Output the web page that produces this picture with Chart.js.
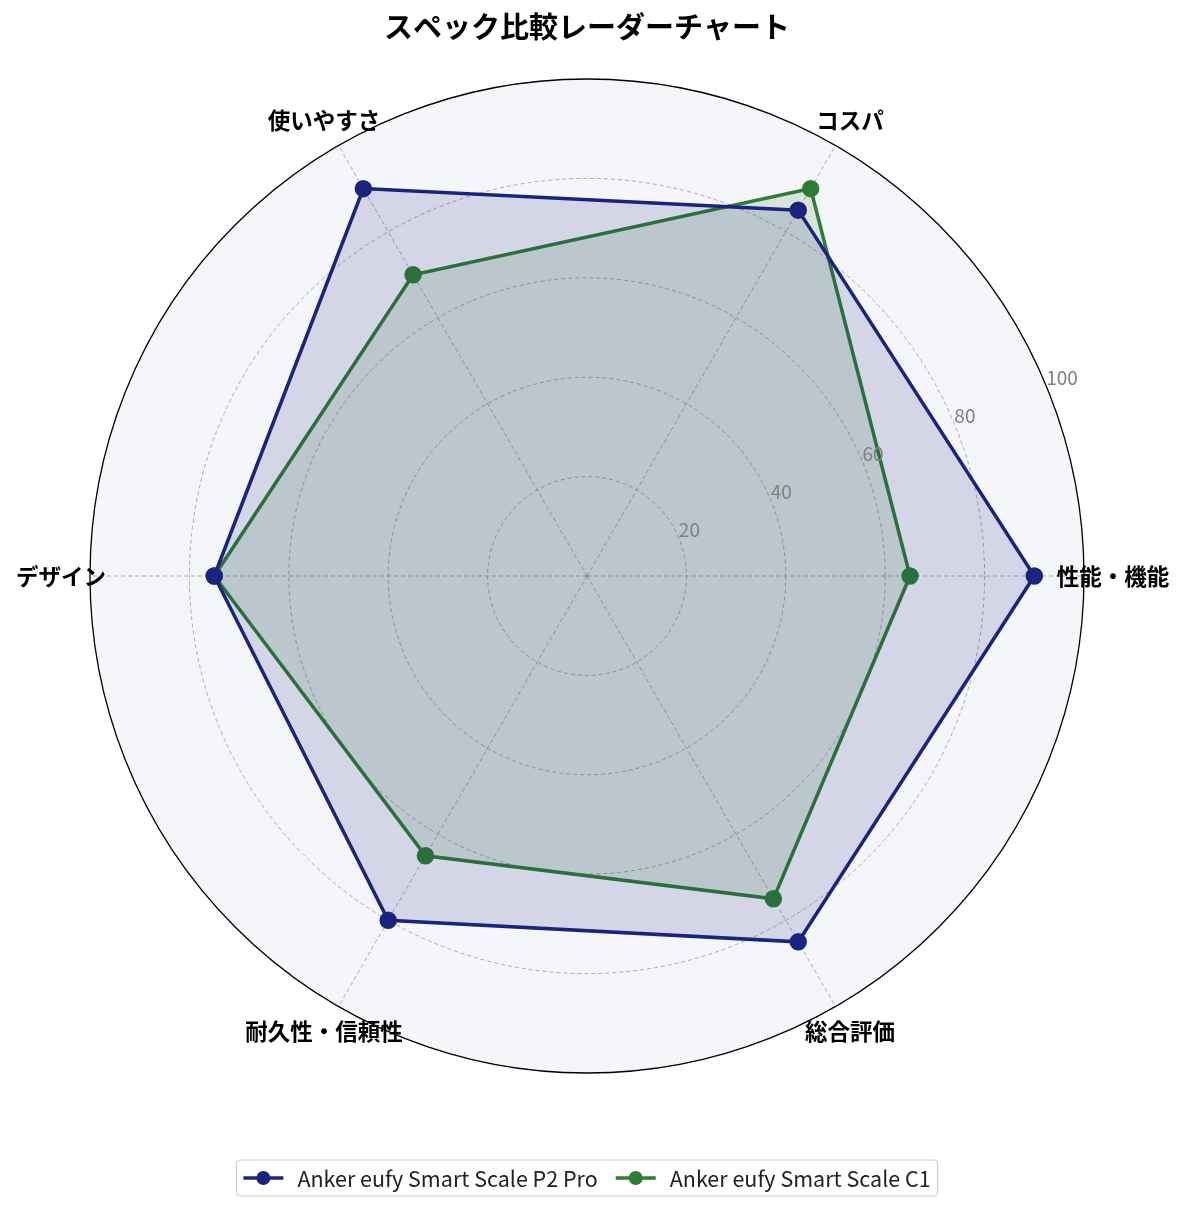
<!DOCTYPE html>
<html lang="ja">
<head>
<meta charset="utf-8">
<title>スペック比較レーダーチャート</title>
<script src="https://cdn.jsdelivr.net/npm/chart.js@4.4.1/dist/chart.umd.min.js"></script>
<style>
  html, body { margin: 0; padding: 0; background: #ffffff; }
  #wrap { position: relative; width: 1185px; height: 1211px; }
</style>
</head>
<body>
<div id="wrap"><canvas id="radar"></canvas></div>
<script>
// data, in the order the reference goes round (counter-clockwise from the right)
const categories = ["性能・機能", "コスパ", "使いやすさ", "デザイン", "耐久性・信頼性", "総合評価"];
const seriesNames = ["Anker eufy Smart Scale P2 Pro", "Anker eufy Smart Scale C1"];
const p2ProValues = [90, 85, 90, 75, 80, 85];
const c1Values = [65, 90, 70, 75, 65, 75];
const tickValues = [20, 40, 60, 80, 100];

const seriesColors = ["#1a237e", "#2e7d32"];
const seriesFills = ["rgba(26, 35, 126, 0.15)", "rgba(46, 125, 50, 0.15)"];
const FONT = '"Noto Sans CJK JP", "Noto Sans", sans-serif';

// Chart.js walks clockwise, so reorder to keep the same picture
const order = [0, 5, 4, 3, 2, 1];
const pick = arr => order.map(i => arr[i]);

Chart.defaults.font.family = FONT;

// radial tick labels sit at 22.5 deg, like matplotlib's rlabel
const tickLabels = {
  id: "tickLabels",
  afterDatasetsDraw(chart) {
    const scale = chart.scales.r;
    const ctx = chart.ctx;
    const a = 22.5 * Math.PI / 180;
    ctx.save();
    ctx.font = "19px " + FONT;
    ctx.fillStyle = "#808080";
    ctx.textAlign = "left";
    ctx.textBaseline = "bottom";
    tickValues.forEach(v => {
      const r = scale.getDistanceFromCenterForValue(v);
      ctx.fillText(String(v), scale.xCenter + r * Math.cos(a), scale.yCenter - r * Math.sin(a) + 1);
    });
    ctx.restore();
  }
};

// category labels, centred just outside the outer ring
const catLabels = {
  id: "catLabels",
  afterDatasetsDraw(chart) {
    const scale = chart.scales.r;
    const ctx = chart.ctx;
    const dist = scale.getDistanceFromCenterForValue(100) + 29;
    ctx.save();
    ctx.font = "bold 22.5px " + FONT;
    ctx.fillStyle = "#000000";
    ctx.textAlign = "center";
    ctx.textBaseline = "middle";
    chart.data.labels.forEach((lab, i) => {
      const p = scale.getPointPosition(i, dist);
      ctx.fillText(lab, p.x, p.y);
    });
    ctx.restore();
  }
};

// boxed legend under the chart with line+dot handles
const legendBox = {
  id: "legendBox",
  afterDraw(chart) {
    const ctx = chart.ctx;
    const sets = chart.data.datasets;
    const handleW = 40, gapText = 14, gapItem = 18, padX = 7, boxH = 36;
    ctx.save();
    ctx.font = "21.5px " + FONT;
    const widths = sets.map(d => ctx.measureText(d.label).width);
    let total = padX * 2 + gapItem * (sets.length - 1);
    widths.forEach(w => { total += handleW + gapText + w; });
    const cx = (chart.chartArea.left + chart.chartArea.right) / 2;
    const cy = chart.chartArea.bottom + 105;
    const x0 = cx - total / 2;

    ctx.beginPath();
    ctx.roundRect(x0, cy - boxH / 2, total, boxH, 4);
    ctx.fillStyle = "rgba(255,255,255,0.8)";
    ctx.fill();
    ctx.strokeStyle = "#cccccc";
    ctx.lineWidth = 1.2;
    ctx.stroke();

    let x = x0 + padX;
    sets.forEach((d, i) => {
      ctx.strokeStyle = d.borderColor;
      ctx.lineWidth = 3.5;
      ctx.beginPath();
      ctx.moveTo(x, cy);
      ctx.lineTo(x + handleW, cy);
      ctx.stroke();
      ctx.fillStyle = d.borderColor;
      ctx.beginPath();
      ctx.arc(x + handleW / 2, cy, 7, 0, Math.PI * 2);
      ctx.fill();
      ctx.fillStyle = "#222222";
      ctx.textAlign = "left";
      ctx.textBaseline = "middle";
      ctx.fillText(d.label, x + handleW + gapText, cy + 1);
      x += handleW + gapText + widths[i] + gapItem;
    });
    ctx.restore();
  }
};

const makeSet = (name, values, i) => ({
  label: name,
  data: pick(values),
  borderColor: seriesColors[i],
  backgroundColor: seriesFills[i],
  pointBackgroundColor: seriesColors[i],
  pointBorderColor: seriesColors[i],
  borderWidth: 3.5,
  pointRadius: 7,
  pointHoverRadius: 7,
  fill: true,
  tension: 0
});

new Chart(document.getElementById("radar"), {
  type: "radar",
  data: {
    labels: pick(categories),
    datasets: [
      makeSet(seriesNames[0], p2ProValues, 0),
      makeSet(seriesNames[1], c1Values, 1)
    ]
  },
  options: {
    responsive: true,
    maintainAspectRatio: false,
    animation: false,
    layout: { padding: { left: 90, right: 101, top: 0, bottom: 138 } },
    plugins: {
      legend: { display: false },
      tooltip: { enabled: false },
      title: {
        display: true,
        text: "スペック比較レーダーチャート",
        color: "#000000",
        font: { size: 29, weight: "bold", family: FONT },
        padding: { top: 10, bottom: 34.2 }
      }
    },
    scales: {
      r: {
        min: 0,
        max: 100,
        startAngle: 90,
        backgroundColor: "#f5f6fa",
        ticks: { stepSize: 20, display: false },
        pointLabels: { display: false },
        grid: {
          circular: true,
          color: c => c.tick && c.tick.value === 100 ? "#000000" : "rgba(120,120,120,0.75)",
          lineWidth: c => c.tick && c.tick.value === 100 ? 1.3 : 0.8
        },
        border: {
          dash: c => c.tick && c.tick.value === 100 ? [] : [4, 3]
        },
        angleLines: {
          color: "rgba(120,120,120,0.75)",
          lineWidth: 0.8,
          borderDash: [4, 3]
        }
      }
    }
  },
  plugins: [tickLabels, catLabels, legendBox]
});
</script>
</body>
</html>
